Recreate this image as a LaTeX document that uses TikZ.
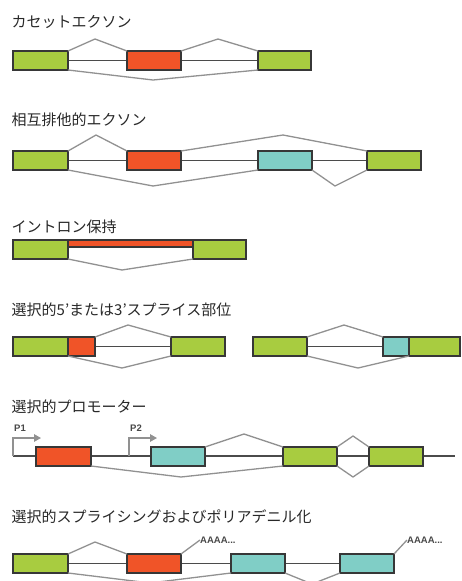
\documentclass[tikz,border=0pt]{standalone}
\usepackage{fontspec}
\newfontfamily\jpfont{Noto Sans CJK JP}
\newfontfamily\labfont{Liberation Sans}
\usetikzlibrary{arrows.meta,backgrounds}
\definecolor{exgreen}{RGB}{168,204,64}
\definecolor{exred}{RGB}{240,84,40}
\definecolor{excyan}{RGB}{128,206,198}
\definecolor{exborder}{RGB}{55,55,55}
\definecolor{intronc}{RGB}{75,75,75}
\definecolor{arcc}{RGB}{145,145,145}
\definecolor{titlec}{RGB}{40,40,40}
\tikzset{
  exon/.style={draw=exborder, line width=1.6pt, inner sep=0pt, outer sep=0pt,
    minimum height=19pt, anchor=north west},
  gex/.style={exon, fill=exgreen},
  rex/.style={exon, fill=exred},
  cex/.style={exon, fill=excyan},
  intron/.style={draw=intronc, line width=1.4pt},
  sarc/.style={draw=arcc, line width=1.3pt, line join=round},
  title/.style={anchor=west, inner sep=0pt, font=\jpfont\fontsize{15}{17}\selectfont, text=titlec},
  smalllab/.style={anchor=west, inner sep=0pt, font=\labfont\bfseries\fontsize{9.5}{10}\selectfont, text=black!72},
  prom/.style={draw=arcc, line width=1.4pt, -{Triangle[length=7pt,width=7.5pt]}},
}
\begin{document}
\begin{tikzpicture}[x=1pt,y=-1pt]
\useasboundingbox (0,0) rectangle (461,581);
\clip (0,0) rectangle (461,581);

% ---------- 1 cassette exon
\node[title] (t1) at (11.5,22) {カセットエクソン};
\node[gex, minimum width=55pt] (g1a) at (13,51) {};
\node[rex, minimum width=54pt] (r1) at (127,51) {};
\node[gex, minimum width=53pt] (g1b) at (258,51) {};
\coordinate (p1a) at (95,39);
\coordinate (p1b) at (218,39);
\coordinate (p1c) at (153,80);
\begin{pgfonlayer}{background}
\draw[intron] (g1a.east) -- (g1b.west);
\end{pgfonlayer}
\draw[sarc] (g1a.north east) -- (p1a) -- (r1.north west);
\draw[sarc] (r1.north east) -- (p1b) -- (g1b.north west);
\draw[sarc] (g1a.south east) -- (p1c) -- (g1b.south west);

% ---------- 2 mutually exclusive
\node[title] (t2) at (11.5,120) {相互排他的エクソン};
\node[gex, minimum width=55pt] (g2a) at (13,151) {};
\node[rex, minimum width=54pt] (r2) at (127,151) {};
\node[cex, minimum width=54pt] (c2) at (258,151) {};
\node[gex, minimum width=54pt] (g2b) at (367,151) {};
\coordinate (p2a) at (96,135);
\coordinate (p2b) at (283,135);
\coordinate (p2c) at (153,186);
\coordinate (p2d) at (335,186);
\begin{pgfonlayer}{background}
\draw[intron] (g2a.east) -- (g2b.west);
\end{pgfonlayer}
\draw[sarc] (g2a.north east) -- (p2a) -- (r2.north west);
\draw[sarc] (r2.north east) -- (p2b) -- (g2b.north west);
\draw[sarc] (g2a.south east) -- (p2c) -- (c2.south west);
\draw[sarc] (c2.south east) -- (p2d) -- (g2b.south west);

% ---------- 3 intron retention
\node[title] (t3) at (11.5,226.5) {イントロン保持};
\node[gex, minimum width=55pt] (g3a) at (13,240) {};
\node[rex, minimum width=125pt, minimum height=7pt] (r3) at (68,240) {};
\node[gex, minimum width=53pt] (g3b) at (193,240) {};
\coordinate (p3a) at (122,270);
\draw[sarc] (g3a.south east) -- (p3a) -- (g3b.south west);

% ---------- 4 alternative 5'/3' splice site
\node[title] (t4) at (11.5,310) {選択的5’または3’スプライス部位};
\node[gex, minimum width=55pt] (g4a) at (13,337) {};
\node[rex, minimum width=27pt] (r4) at (68,337) {};
\node[gex, minimum width=54pt] (g4b) at (171,337) {};
\coordinate (p4a) at (128,325);
\coordinate (p4b) at (122,368);
\begin{pgfonlayer}{background}
\draw[intron] (r4.east) -- (g4b.west);
\end{pgfonlayer}
\draw[sarc] (r4.north east) -- (p4a) -- (g4b.north west);
\draw[sarc] (g4a.south east) -- (p4b) -- (g4b.south west);
\node[gex, minimum width=54pt] (g4c) at (253,337) {};
\node[cex, minimum width=26pt] (c4) at (383,337) {};
\node[gex, minimum width=51pt] (g4d) at (409,337) {};
\coordinate (p4c) at (344,325);
\coordinate (p4d) at (358,368);
\begin{pgfonlayer}{background}
\draw[intron] (g4c.east) -- (c4.west);
\end{pgfonlayer}
\draw[sarc] (g4c.north east) -- (p4c) -- (c4.north west);
\draw[sarc] (g4c.south east) -- (p4d) -- (g4d.south west);

% ---------- 5 alternative promoters
\node[title] (t5) at (11.5,407) {選択的プロモーター};
\coordinate (s5l) at (13,456);
\coordinate (s5r) at (455,456);
\node[rex, minimum width=55pt] (r5) at (36,447) {};
\node[cex, minimum width=54pt] (c5) at (151,447) {};
\node[gex, minimum width=54pt] (g5a) at (283,447) {};
\node[gex, minimum width=54pt] (g5b) at (369,447) {};
\begin{pgfonlayer}{background}
\draw[intron] (s5l) -- (s5r);
\end{pgfonlayer}
\coordinate (p5a) at (244,434);
\coordinate (p5b) at (181,477);
\coordinate (p5c) at (353,436);
\coordinate (p5d) at (353,477);
\draw[sarc] (c5.north east) -- (p5a) -- (g5a.north west);
\draw[sarc] (r5.south east) -- (p5b) -- (g5a.south west);
\draw[sarc] (g5a.north east) -- (p5c) -- (g5b.north west);
\draw[sarc] (g5a.south east) -- (p5d) -- (g5b.south west);
\coordinate (pr1b) at (13,456);
\coordinate (pr1c) at (13,438);
\coordinate (pr1t) at (41,438);
\coordinate (pr2b) at (129,456);
\coordinate (pr2c) at (129,438);
\coordinate (pr2t) at (157,438);
\draw[prom] (pr1b) -- (pr1c) -- (pr1t);
\draw[prom] (pr2b) -- (pr2c) -- (pr2t);
\node[smalllab] (lp1) at (14,428) {P1};
\node[smalllab] (lp2) at (130,428) {P2};

% ---------- 6 alternative splicing and polyadenylation
\node[title] (t6) at (11.5,517) {選択的スプライシングおよびポリアデニル化};
\node[gex, minimum width=55pt] (g6) at (13,554) {};
\node[rex, minimum width=54pt] (r6) at (127,554) {};
\node[cex, minimum width=54pt] (c6a) at (231,554) {};
\node[cex, minimum width=54pt] (c6b) at (340,554) {};
\begin{pgfonlayer}{background}
\draw[intron] (g6.east) -- (c6b.west);
\end{pgfonlayer}
\coordinate (p6a) at (95,542);
\coordinate (p6b) at (150,583);
\coordinate (p6c) at (312,584);
\draw[sarc] (g6.north east) -- (p6a) -- (r6.north west);
\draw[sarc] (g6.south east) -- (p6b) -- (c6a.south west);
\draw[sarc] (c6a.south east) -- (p6c) -- (c6b.south west);
\node[smalllab] (pa1) at (200,540) {AAAA...};
\node[smalllab] (pa2) at (407,540) {AAAA...};
\draw[sarc] (r6.north east) -- (pa1.west);
\draw[sarc] (c6b.north east) -- (pa2.west);
\end{tikzpicture}
\end{document}
